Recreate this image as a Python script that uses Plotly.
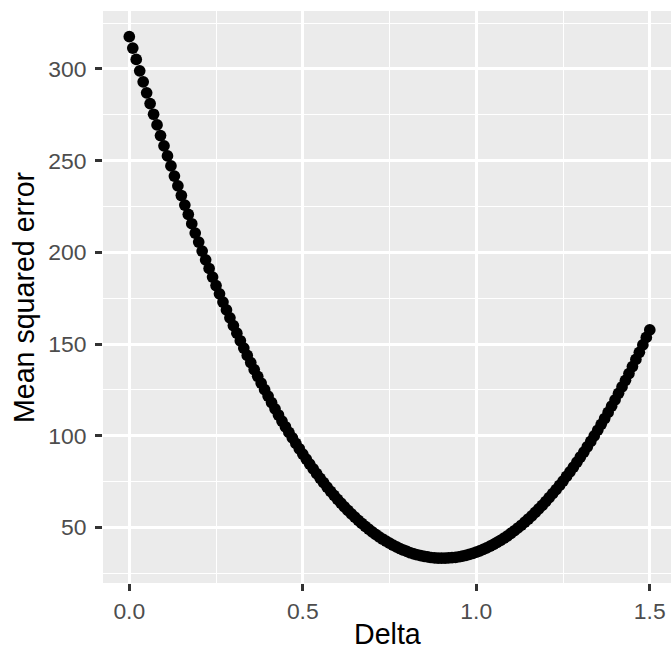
import plotly.graph_objects as go

delta = [0.00, 0.01, 0.02, 0.03, 0.04, 0.05, 0.06, 0.07, 0.08, 0.09,
         0.10, 0.11, 0.12, 0.13, 0.14, 0.15, 0.16, 0.17, 0.18, 0.19,
         0.20, 0.21, 0.22, 0.23, 0.24, 0.25, 0.26, 0.27, 0.28, 0.29,
         0.30, 0.31, 0.32, 0.33, 0.34, 0.35, 0.36, 0.37, 0.38, 0.39,
         0.40, 0.41, 0.42, 0.43, 0.44, 0.45, 0.46, 0.47, 0.48, 0.49,
         0.50, 0.51, 0.52, 0.53, 0.54, 0.55, 0.56, 0.57, 0.58, 0.59,
         0.60, 0.61, 0.62, 0.63, 0.64, 0.65, 0.66, 0.67, 0.68, 0.69,
         0.70, 0.71, 0.72, 0.73, 0.74, 0.75, 0.76, 0.77, 0.78, 0.79,
         0.80, 0.81, 0.82, 0.83, 0.84, 0.85, 0.86, 0.87, 0.88, 0.89,
         0.90, 0.91, 0.92, 0.93, 0.94, 0.95, 0.96, 0.97, 0.98, 0.99,
         1.00, 1.01, 1.02, 1.03, 1.04, 1.05, 1.06, 1.07, 1.08, 1.09,
         1.10, 1.11, 1.12, 1.13, 1.14, 1.15, 1.16, 1.17, 1.18, 1.19,
         1.20, 1.21, 1.22, 1.23, 1.24, 1.25, 1.26, 1.27, 1.28, 1.29,
         1.30, 1.31, 1.32, 1.33, 1.34, 1.35, 1.36, 1.37, 1.38, 1.39,
         1.40, 1.41, 1.42, 1.43, 1.44, 1.45, 1.46, 1.47, 1.48, 1.49,
         1.50]

mse = [317.6, 311.4, 305.2, 299.0, 293.0, 287.0, 281.1, 275.3, 269.5, 263.7,
       258.1, 252.6, 247.1, 241.6, 236.3, 231.0, 225.8, 220.7, 215.6, 210.5,
       205.6, 200.7, 195.9, 191.2, 186.5, 181.9, 177.4, 172.9, 168.6, 164.3,
       160.1, 155.9, 151.8, 147.8, 143.8, 139.9, 136.1, 132.4, 128.7, 125.1,
       121.6, 118.1, 114.7, 111.3, 108.0, 104.9, 101.8, 98.8, 95.8, 92.9,
       90.0, 87.3, 84.5, 81.9, 79.3, 76.8, 74.4, 72.0, 69.7, 67.5,
       65.3, 63.2, 61.2, 59.3, 57.4, 55.6, 53.9, 52.2, 50.6, 49.1,
       47.6, 46.2, 44.9, 43.7, 42.5, 41.4, 40.4, 39.4, 38.5, 37.7,
       36.9, 36.2, 35.6, 35.1, 34.6, 34.2, 33.9, 33.6, 33.4, 33.3,
       33.3, 33.3, 33.4, 33.5, 33.7, 34.0, 34.3, 34.8, 35.3, 35.8,
       36.5, 37.2, 38.0, 38.8, 39.8, 40.8, 41.8, 43.0, 44.2, 45.4,
       46.8, 48.2, 49.7, 51.2, 52.9, 54.6, 56.3, 58.2, 60.1, 62.0,
       64.1, 66.2, 68.4, 70.6, 72.9, 75.3, 77.8, 80.3, 82.9, 85.6,
       88.4, 91.1, 94.0, 96.9, 99.9, 103.0, 106.2, 109.4, 112.7, 116.1,
       119.6, 123.1, 126.6, 130.2, 133.9, 137.7, 141.6, 145.5, 149.5, 153.6,
       157.7]

x_ticks = [0.0, 0.5, 1.0, 1.5]
x_ticktext = ["0.0", "0.5", "1.0", "1.5"]
y_ticks = [50, 100, 150, 200, 250, 300]
y_ticktext = ["50", "100", "150", "200", "250", "300"]

FONT = "Liberation Sans, Arial, Helvetica, sans-serif"

fig = go.Figure()
fig.add_trace(go.Scatter(
    x=delta, y=mse, mode="markers",
    marker=dict(color="black", size=11.7, line=dict(width=0)),
    showlegend=False,
))

axis_common = dict(
    showline=False, zeroline=False,
    showgrid=True, gridcolor="white", gridwidth=2.6,
    ticks="outside", ticklen=7, tickwidth=2.6, tickcolor="#333333",
    tickfont=dict(family=FONT, size=22.9, color="#4D4D4D"),
)

fig.update_xaxes(
    range=[-0.0758, 1.5612],
    tickmode="array", tickvals=x_ticks, ticktext=x_ticktext,
    minor=dict(dtick=0.25, tick0=0, showgrid=True, gridcolor="white",
               gridwidth=1.3, ticks=""),
    ticklabelstandoff=1,
    **axis_common,
)
fig.update_yaxes(
    range=[19.7, 331.6],
    tickmode="array", tickvals=y_ticks, ticktext=y_ticktext,
    minor=dict(dtick=25, tick0=0, showgrid=True, gridcolor="white",
               gridwidth=1.3, ticks=""),
    ticklabelstandoff=4,
    **axis_common,
)

fig.add_annotation(text="Delta", xref="paper", yref="paper",
                   x=0.5, y=-0.089, xanchor="center", yanchor="middle",
                   showarrow=False,
                   font=dict(family=FONT, size=28.6, color="black"))
fig.add_annotation(text="Mean squared error", xref="paper", yref="paper",
                   x=-0.139, y=0.5, xanchor="center", yanchor="middle",
                   textangle=-90, showarrow=False,
                   font=dict(family=FONT, size=28.6, color="black"))

fig.update_layout(
    width=671, height=652,
    margin=dict(l=103, r=0, t=11, b=69),
    plot_bgcolor="#EBEBEB", paper_bgcolor="white",
)

fig.write_html("out.html")
